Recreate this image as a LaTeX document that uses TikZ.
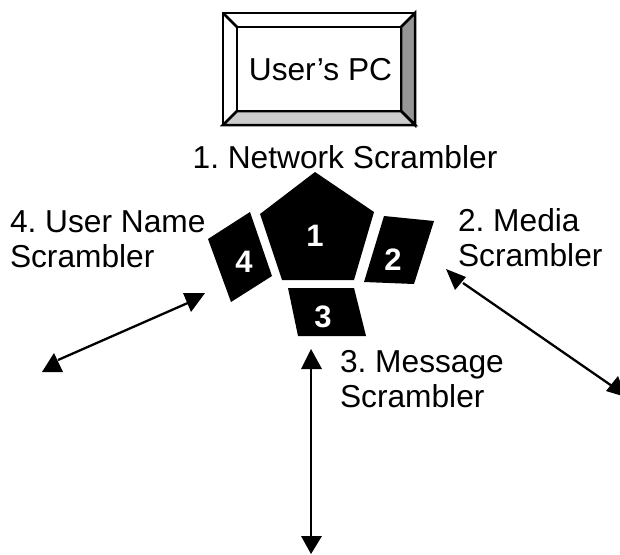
\documentclass[tikz,border=0pt]{standalone}
\usepackage{fontspec}
\setmainfont{Liberation Sans}
\frenchspacing
\definecolor{bevelside}{HTML}{969696}
\definecolor{bevelbottom}{HTML}{CCCCCC}
\tikzset{
  x=1pt,y=-1pt,
  bevel/.style={draw=black,line width=2.5pt,line join=miter},
  block/.style={fill=black},
  lbl/.style={inner sep=0pt,outer sep=0pt,align=left,font=\fontsize{31.7}{35}\selectfont,text=black},
  num/.style={inner sep=0pt,outer sep=0pt,font=\fontsize{31}{33}\selectfont\bfseries,text=white},
  link/.style={draw=black,line width=2.3pt},
  head/.style={fill=black}
}
\begin{document}
\begin{tikzpicture}
\useasboundingbox (0,0) rectangle (620,554);
\clip (0,0) rectangle (620,554);
% bevelled button
\filldraw[bevel,fill=white] (223,13) rectangle (415,125);
\filldraw[bevel,fill=bevelside] (415,13) -- (401,27) -- (401,111) -- (415,125) -- cycle;
\filldraw[bevel,fill=bevelbottom] (223,125) -- (237,111) -- (401,111) -- (415,125) -- cycle;
\draw[bevel] (223,13) -- (237,27);
\draw[bevel,fill=white] (237,27) rectangle (401,111);
\node[lbl] (pc) at (320.5,70) {User’s PC};
% blocks
\fill[block] (315,172) -- (374,212) -- (354,280) -- (282,280) -- (260,214) -- cycle;
\fill[block] (384,216) -- (434,221) -- (414,284) -- (364,282) -- cycle;
\fill[block] (288,288) -- (354,288) -- (366,336) -- (298,336) -- cycle;
\fill[block] (250,212) -- (272,276) -- (231,302) -- (208,239) -- cycle;
\node[num] (n1) at (315,236) {1};
\node[num] (n2) at (393,260) {2};
\node[num] (n3) at (323,317) {3};
\node[num] (n4) at (244,262) {4};
% labels
\node[lbl,anchor=center] (l1) at (345,157) {1. Network Scrambler};
\node[lbl,anchor=west] (l2) at (458,238) {2. Media\\Scrambler};
\node[lbl,anchor=west] (l3) at (340,379) {3. Message\\Scrambler};
\node[lbl,anchor=west] (l4) at (10,239) {4. User Name\\Scrambler};
% connectors
\coordinate (a4a) at (190,302);
\coordinate (a4b) at (58,360);
\coordinate (a2a) at (463,283);
\coordinate (a2b) at (612,386);
\coordinate (a3a) at (311,366);
\coordinate (a3b) at (311,538);
\draw[link] (a4a) -- (a4b);
\draw[link] (a2a) -- (a2b);
\draw[link] (a3a) -- (a3b);
\fill[head] (183,293) -- (205,293) -- (191,312) -- cycle;
\fill[head] (54,353) -- (42,372) -- (63,372) -- cycle;
\fill[head] (446,269) -- (466,277) -- (455,290) -- cycle;
\fill[head] (618,376) -- (606,391) -- (626,397) -- cycle;
\fill[head] (311,349) -- (301,369) -- (322,369) -- cycle;
\fill[head] (301,536) -- (322,536) -- (311,554) -- cycle;
\end{tikzpicture}
\end{document}
